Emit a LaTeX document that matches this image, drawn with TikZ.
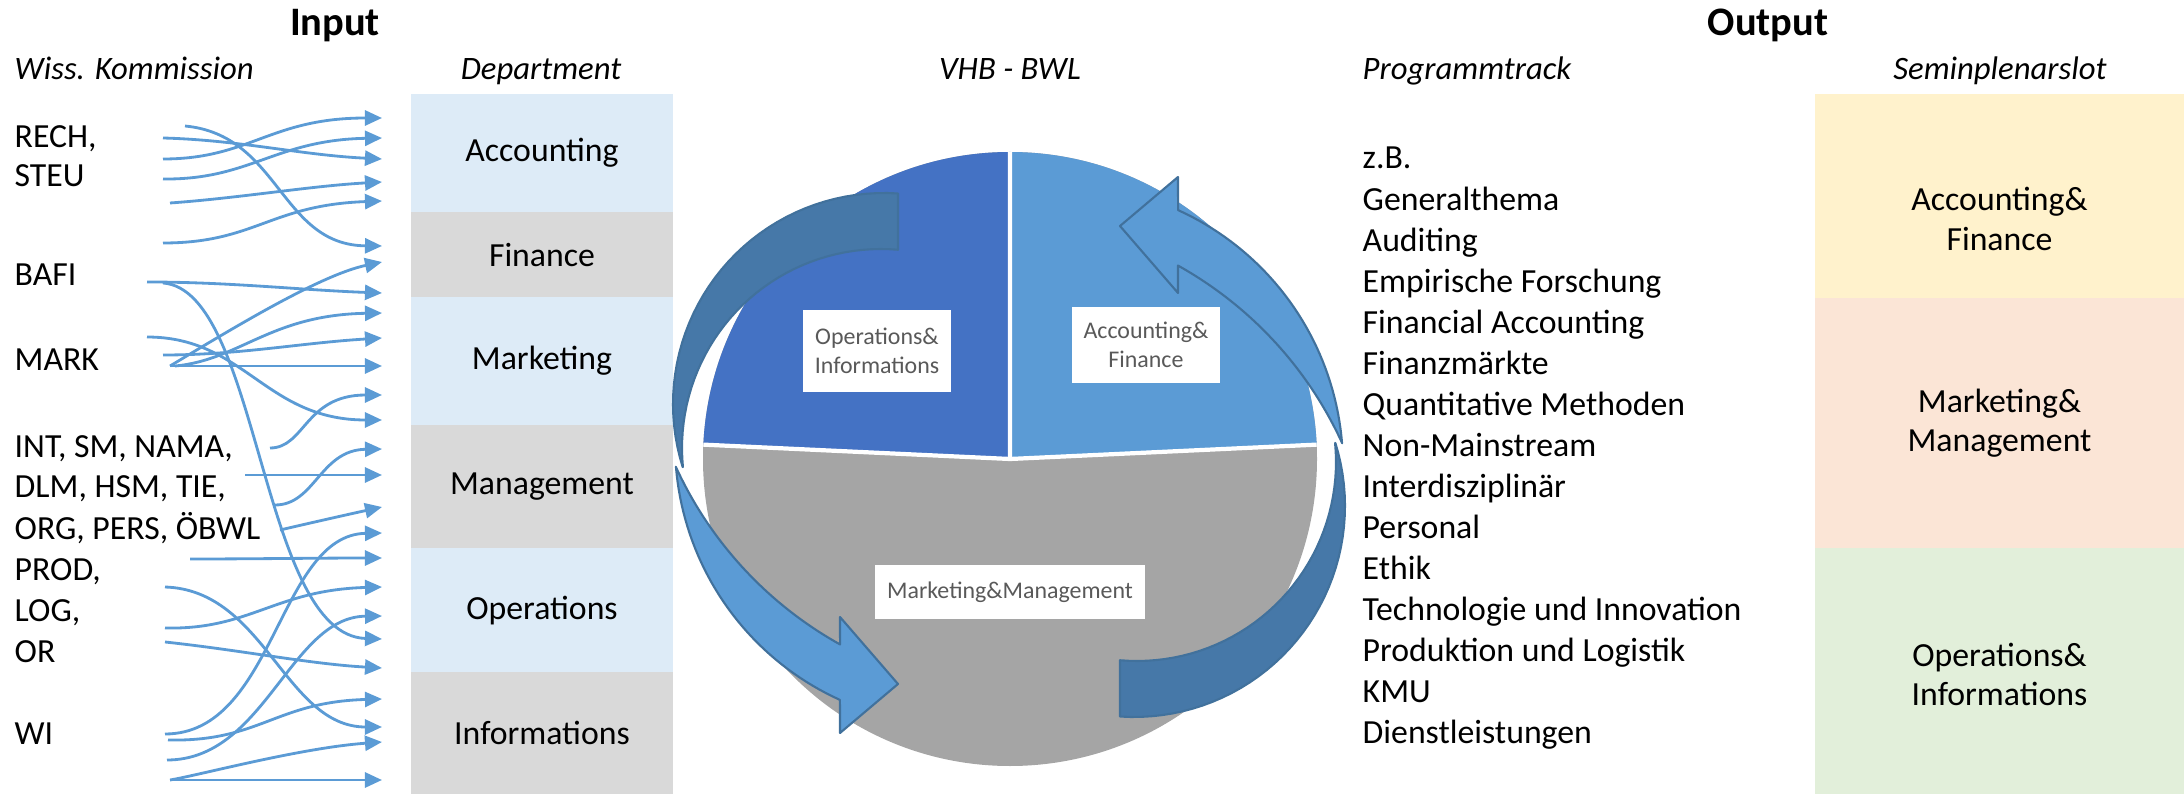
\documentclass[tikz,border=0pt]{standalone}
\usepackage{fontspec}
\setmainfont{Carlito}
\usetikzlibrary{arrows.meta,positioning}

\definecolor{deptblue}{HTML}{DDEBF7}
\definecolor{deptgray}{HTML}{D9D9D9}
\definecolor{linkblue}{HTML}{5B9BD5}
\definecolor{pieblue}{HTML}{4472C4}
\definecolor{pielight}{HTML}{5B9BD5}
\definecolor{piegray}{HTML}{A5A5A5}
\definecolor{ribbonlight}{HTML}{5B9BD5}
\definecolor{ribbondark}{HTML}{4678A8}
\definecolor{ribbonline}{HTML}{41719C}
\definecolor{slotyellow}{HTML}{FFF2CC}
\definecolor{slotred}{HTML}{FBE5D6}
\definecolor{slotgreen}{HTML}{E2EFDA}
\definecolor{boxtext}{HTML}{595959}

% one curved band arrow (back part dark, front part light with head)
\newcommand{\cyclearrow}{%
    \filldraw[ribbon, fill=ribbondark]
        plot[domain=273.8:162.6, samples=40, variable=\ang] ({884+211*cos(\ang)}, {404+211*sin(\ang)})
        -- plot[domain=174.5:274.9, samples=40, variable=\ang] ({881+199*cos(\ang)}, {448+199*sin(\ang)})
        -- cycle;
    \filldraw[ribbon, fill=ribbonlight]
        plot[domain=175.3:114.4, samples=40, variable=\ang] ({956+281*cos(\ang)}, {444+281*sin(\ang)})
        -- (840,733) -- (898,684) -- (840,617)
        -- plot[domain=119.1:155.4, samples=40, variable=\ang] ({1029+388.5*cos(\ang)}, {305+388.5*sin(\ang)})
        -- cycle;
}

\begin{document}
\begin{tikzpicture}[x=0.01cm, y=-0.01cm,
    title/.style={font=\fontsize{11.5}{14}\selectfont\bfseries, anchor=base},
    colhead/.style={font=\fontsize{9.3}{11}\selectfont\itshape, anchor=base, inner sep=0pt},
    item/.style={font=\fontsize{9.6}{11.7}\selectfont, anchor=base west, inner sep=0pt},
    dept/.style={font=\fontsize{9.6}{11.7}\selectfont, minimum width=2.62cm, inner sep=0pt, outer sep=0pt},
    slot/.style={minimum width=3.69cm, inner sep=0pt, outer sep=0pt},
    slottext/.style={font=\fontsize{9.6}{11.2}\selectfont, align=center},
    piebox/.style={fill=white, text=boxtext, font=\fontsize{6.8}{8.2}\selectfont, align=center, inner sep=0pt},
    feed/.style={draw=linkblue, line width=0.8pt, -{Triangle[length=0.17cm, width=0.15cm]}},
    ribbon/.style={draw=ribbonline, line width=0.6pt, line join=round}]
                \useasboundingbox (0,0) rectangle (2184,794);

                % Titles and column heads
                \node[title] (in) at (335,36) {Input};
                \node[title] (out) at (1768,36) {Output};
                \node[colhead, anchor=base west] (hwk) at (14,80) {Wiss. Kommission};
                \node[colhead] (hdep) at (541,80) {Department};
                \node[colhead] (hvhb) at (1010,80) {VHB - BWL};
                \node[colhead, anchor=base west] (hprog) at (1362,80) {Programmtrack};
                \node[colhead] (hslot) at (2000,80) {Seminplenarslot};

                % Commissions
                \foreach \txt/\yy [count=\i] in {{RECH,}/148, STEU/187, BAFI/285, MARK/370,
                        {INT, SM, NAMA,}/457, {DLM, HSM, TIE,}/498, {ORG, PERS, ÖBWL}/539,
                        {PROD,}/580, {LOG,}/621, OR/662, WI/744}
                    \node[item] (wk\i) at (14,\yy) {\txt};

                % Department column
                \node[dept, fill=deptblue, minimum height=1.18cm] (acc) at (542,153) {Accounting};
                \node[dept, fill=deptgray, minimum height=0.85cm, below=0pt of acc] (fin) {Finance};
                \node[dept, fill=deptblue, minimum height=1.28cm, below=0pt of fin] (mkt) {Marketing};
                \node[dept, fill=deptgray, minimum height=1.23cm, below=0pt of mkt] (mgt) {Management};
                \node[dept, fill=deptblue, minimum height=1.24cm, below=0pt of mgt] (ops) {Operations};
                \node[dept, fill=deptgray, minimum height=1.22cm, below=0pt of ops] (inf) {Informations};

                % Assignment arrows: start, two control points, tip height
                \foreach \sx/\sy/\ax/\ay/\bx/\by/\ty [count=\i] in {
                        163/159/250/159/270/118/118, 163/179/250/180/275/140/138,
                        163/138/240/140/300/155/159, 170/203/240/198/310/186/182,
                        163/243/255/243/270/205/201, 185/126/280/135/280/245/246,
                        170/366/230/330/320/275/262, 147/282/230/282/300/290/293,
                        175/366/240/360/270/315/313, 163/355/240/355/300/343/338,
                        170/366/250/366/300/366/366, 270/448/305/448/305/395/395,
                        147/337/245/337/265/420/420, 275/505/315/505/320/450/449,
                        245/475/300/475/340/475/475, 280/530/310/523/350/514/507,
                        165/734/275/734/278/535/533, 190/559/250/559/320/558/558,
                        165/628/250/630/275/590/587, 167/760/265/760/290/617/616,
                        163/283/260/290/260/635/639, 165/642/240/650/310/664/668,
                        168/740/260/742/275/702/699, 165/587/265/590/285/727/727,
                        170/780/200/775/300/748/742, 170/780/250/780/320/780/780}
                {
                    \coordinate (s\i) at (\sx,\sy);
                    \coordinate (t\i) at (382,\ty);
                    \draw[feed] (s\i) .. controls (\ax,\ay) and (\bx,\by) .. (t\i);
                }

                % Pie: gray lower half, two blue quarters
                \begin{scope}
                    \clip (1010,459) circle[radius=307];
                    \fill[piegray] (690,140) rectangle (1330,780);
                    \fill[pieblue] (1010,459) -- (690,444) -- (690,140) -- (1010,140) -- cycle;
                    \fill[pielight] (1010,459) -- (1330,444) -- (1330,140) -- (1010,140) -- cycle;
                    \draw[white, line width=1.2pt] (690,444) -- (1010,459) -- (1330,444) (1010,459) -- (1010,140);
                \end{scope}

                % Cycle arrows around the pie
                \cyclearrow
                \begin{scope}[rotate around={180:(1009,455)}]
                    \cyclearrow
                \end{scope}

                \node[piebox, minimum width=1.48cm, minimum height=0.81cm] (oi) at (877,351) {Operations\&\\Informations};
                \node[piebox, minimum width=1.47cm, minimum height=0.76cm] (af) at (1146,345) {Accounting\&\\Finance};
                \node[piebox, minimum width=2.70cm, minimum height=0.54cm] (mm) at (1010,592) {Marketing\&Management};

                % Programme tracks
                \foreach \txt [count=\i from 0] in {z.B., Generalthema, Auditing, Empirische Forschung,
                        Financial Accounting, Finanzmärkte, Quantitative Methoden, Non-Mainstream,
                        Interdisziplinär, Personal, Ethik, Technologie und Innovation,
                        Produktion und Logistik, KMU, Dienstleistungen}
                    \node[item] (pt\i) at (1362,{169+41.07*\i}) {\txt};

                % Plenary slots
                \node[slot, fill=slotyellow, minimum height=2.04cm] (sl1) at (1999.5,196) {};
                \node[slot, fill=slotred, minimum height=2.50cm, below=0pt of sl1] (sl2) {};
                \node[slot, fill=slotgreen, minimum height=2.46cm, below=0pt of sl2] (sl3) {};
                \node[slottext] (st1) at ([yshift=-0.23cm]sl1.center) {Accounting\&\\Finance};
                \node[slottext] (st2) at (sl2.center) {Marketing\&\\Management};
                \node[slottext] (st3) at ([yshift=-0.03cm]sl3.center) {Operations\&\\Informations};
\end{tikzpicture}
\end{document}
